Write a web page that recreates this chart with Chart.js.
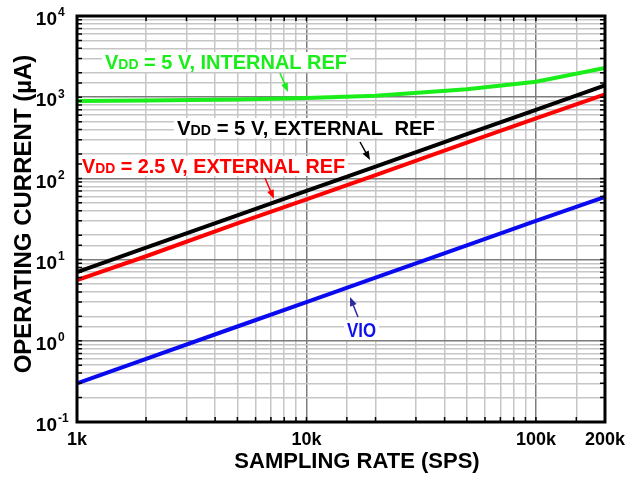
<!DOCTYPE html>
<html>
<head>
<meta charset="utf-8">
<script src="https://cdn.jsdelivr.net/npm/chart.js@4.4.0/dist/chart.umd.min.js"></script>
<style>
  html, body { margin: 0; padding: 0; background: #fff; }
  #grafico { display: block; }
</style>
</head>
<body>
<canvas id="grafico" width="632" height="477"></canvas>
<script>
// taxa de amostragem (SPS)
var taxas = [1000, 2000, 5000, 10000, 20000, 50000, 100000, 200000];

// corrente de operacao (uA) de cada curva
var vdd5Interna = [900, 910, 935, 975, 1040, 1250, 1550, 2290];
var vdd5Externa = [7, 14, 35, 70, 140, 350, 700, 1400];
var vdd25Externa = [5.6, 11, 28, 55, 110, 275, 550, 1080];
var vio = [0.3, 0.6, 1.5, 3, 6, 15, 30, 59];

// rotulos dos eixos
var ticksX = [1000, 10000, 100000, 200000];
var rotulosX = ['1k', '10k', '100k', '200k'];
var expoentesY = [-1, 0, 1, 2, 3, 4];
var tituloX = 'SAMPLING RATE (SPS)';
var tituloY = 'OPERATING CURRENT (µA)';

var fonte = '"Liberation Sans", Arial, sans-serif';

// textos das curvas (posicao em pixels) e setas
var anotacoes = [
    { partes: [['V', 20], ['DD', 14], [' = 5 V, INTERNAL REF', 20]], cor: '#1aee1a', x: 105, y: 69, largura: 242, seta: [280, 73, 288, 92] },
    { partes: [['V', 20], ['DD', 14], [' = 5 V, EXTERNAL  REF', 20]], cor: '#000000', x: 177, y: 135, largura: 258, seta: [360, 142, 370, 160] },
    { partes: [['V', 20], ['DD', 14], [' = 2.5 V, EXTERNAL REF', 20]], cor: '#ff0000', x: 82, y: 173, largura: 263, seta: [265, 178, 274, 199] },
    { partes: [['VIO', 20]], cor: '#1010ee', x: 347, y: 337, largura: 29, seta: [358, 317, 350, 297], corSeta: '#2a2aa0' }
];

function ehDecada(v) {
    var l = Math.log10(v);
    return Math.abs(l - Math.round(l)) < 1e-6;
}

function corGrade(c) {
    return ehDecada(c.tick.value) ? '#7c7c7c' : '#c6c6c6';
}

function seta(ctx, x1, y1, x2, y2, cor) {
    var ang = Math.atan2(y2 - y1, x2 - x1);
    var c = Math.cos(ang), s = Math.sin(ang);
    ctx.strokeStyle = cor;
    ctx.fillStyle = cor;
    ctx.lineWidth = 1.5;
    ctx.beginPath();
    ctx.moveTo(x1, y1);
    ctx.lineTo(x2 - 6 * c, y2 - 6 * s);
    ctx.stroke();
    ctx.beginPath();
    ctx.moveTo(x2, y2);
    ctx.lineTo(x2 - 9 * c + 3.5 * s, y2 - 9 * s - 3.5 * c);
    ctx.lineTo(x2 - 9 * c - 3.5 * s, y2 - 9 * s + 3.5 * c);
    ctx.closePath();
    ctx.fill();
}

// moldura, marcas internas, rotulos 10^n, titulos e textos das curvas
var extras = {
    id: 'extras',
    beforeDatasetsDraw: function(chart) {
        // fundo branco dos textos, por baixo das curvas
        var ctx = chart.ctx;
        ctx.save();
        ctx.fillStyle = '#fff';
        anotacoes.forEach(function(an) {
            ctx.fillRect(an.x - 3, an.y - 17, an.largura + 6, 20);
        });
        ctx.restore();
    },
    afterDraw: function(chart) {
        var ctx = chart.ctx;
        var a = chart.chartArea;
        var sx = chart.scales.x, sy = chart.scales.y;
        ctx.save();

        ctx.strokeStyle = '#000';
        ctx.lineWidth = 1.5;
        ctx.beginPath();
        sy.ticks.forEach(function(t) {
            var y = sy.getPixelForValue(t.value);
            ctx.moveTo(a.left, y); ctx.lineTo(a.left + 5, y);
            ctx.moveTo(a.right - 5, y); ctx.lineTo(a.right, y);
        });
        sx.ticks.forEach(function(t) {
            var x = sx.getPixelForValue(t.value);
            ctx.moveTo(x, a.bottom); ctx.lineTo(x, a.bottom - 5);
            ctx.moveTo(x, a.top); ctx.lineTo(x, a.top + 5);
        });
        ctx.stroke();

        ctx.lineWidth = 3;
        ctx.strokeRect(a.left, a.top, a.right - a.left, a.bottom - a.top);

        // rotulos do eixo y com expoente
        ctx.fillStyle = '#000';
        ctx.textBaseline = 'middle';
        expoentesY.forEach(function(e) {
            var y = sy.getPixelForValue(Math.pow(10, e));
            ctx.font = 'bold 19px ' + fonte;
            ctx.textAlign = 'right';
            ctx.fillText('10', 57, y + 4);
            ctx.font = 'bold 12px ' + fonte;
            ctx.textAlign = 'left';
            ctx.fillText(e < 0 ? '-' + Math.abs(e) : String(e), 58, y - 3);
        });

        // titulos dos eixos
        ctx.textAlign = 'center';
        ctx.font = 'bold 22px ' + fonte;
        ctx.fillText(tituloX, 357, 462);
        ctx.save();
        ctx.translate(24, 214);
        ctx.rotate(-Math.PI / 2);
        ctx.font = 'bold 24px ' + fonte;
        ctx.fillText(tituloY, 0, 0, 328);
        ctx.restore();

        // textos das curvas
        ctx.textAlign = 'left';
        ctx.textBaseline = 'alphabetic';
        anotacoes.forEach(function(an) {
            var larguras = an.partes.map(function(p) {
                ctx.font = 'bold ' + p[1] + 'px ' + fonte;
                return ctx.measureText(p[0]).width;
            });
            var total = larguras.reduce(function(s, w) { return s + w; }, 0);
            var k = an.largura / total;

            ctx.save();
            ctx.translate(an.x, an.y);
            ctx.scale(k, 1);
            ctx.fillStyle = an.cor;
            var px = 0;
            an.partes.forEach(function(p, i) {
                ctx.font = 'bold ' + p[1] + 'px ' + fonte;
                ctx.fillText(p[0], px, 0);
                px += larguras[i];
            });
            ctx.restore();

            var s = an.seta;
            seta(ctx, s[0], s[1], s[2], s[3], an.corSeta || an.cor);
        });

        ctx.restore();
    }
};

document.addEventListener("DOMContentLoaded", function() {
    var ctx = document.getElementById('grafico').getContext('2d');

    function serie(valores, cor) {
        return {
            data: taxas.map(function(t, i) { return { x: t, y: valores[i] }; }),
            borderColor: cor,
            borderWidth: 4,
            pointRadius: 0,
            fill: false
        };
    }

    new Chart(ctx, {
        type: 'line',
        data: {
            datasets: [
                serie(vdd5Interna, '#1aee1a'),
                serie(vdd5Externa, '#000000'),
                serie(vdd25Externa, '#ff0000'),
                serie(vio, '#0a0af0')
            ]
        },
        options: {
            responsive: false,
            animation: false,
            events: [],
            layout: { padding: { top: 16, right: 25, left: 0, bottom: 0 } },
            plugins: {
                legend: { display: false },
                tooltip: { enabled: false }
            },
            scales: {
                x: {
                    type: 'logarithmic',
                    min: 1000,
                    max: 200000,
                    afterFit: function(s) { s.height = 55; },
                    border: { display: false },
                    grid: { color: corGrade, lineWidth: 1.5, drawTicks: false },
                    ticks: {
                        autoSkip: false,
                        maxRotation: 0,
                        minRotation: 0,
                        padding: 7,
                        color: '#000',
                        font: { family: fonte, size: 18, weight: 'bold' },
                        callback: function(v) {
                            for (var i = 0; i < ticksX.length; i++) {
                                if (Math.abs(v - ticksX[i]) < 1e-6) return rotulosX[i];
                            }
                            return '';
                        }
                    }
                },
                y: {
                    type: 'logarithmic',
                    min: 0.1,
                    max: 10000,
                    afterFit: function(s) { s.width = 77; },
                    border: { display: false },
                    grid: { color: corGrade, lineWidth: 1.5, drawTicks: false },
                    ticks: { display: false }
                }
            }
        },
        plugins: [extras]
    });
});
</script>
</body>
</html>
